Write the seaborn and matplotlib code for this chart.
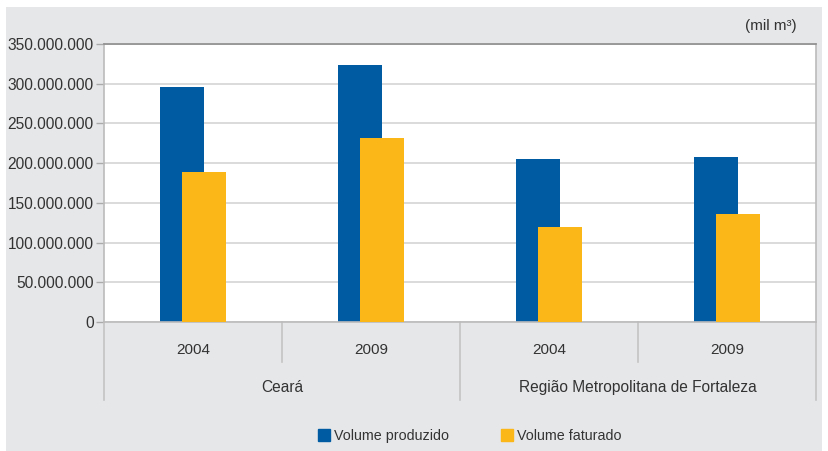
import matplotlib
matplotlib.use("Agg")
import matplotlib.pyplot as plt
import matplotlib.patches as mpatches
from matplotlib.ticker import FuncFormatter
import pandas as pd
import seaborn as sns

# data (mil m3)
grupos = ["Ceará", "Região Metropolitana de Fortaleza"]
anos = ["2004", "2009", "2004", "2009"]
volume_produzido = [296_000_000, 324_000_000, 205_000_000, 208_000_000]
volume_faturado = [189_000_000, 232_000_000, 120_000_000, 136_000_000]

azul = "#005ba3"
amarelo = "#fbb617"
fundo = "#e6e7e9"
texto = "#333333"

plt.rcParams["font.family"] = ["Liberation Sans", "DejaVu Sans"]

fig = plt.figure(figsize=(8.29, 4.51), dpi=100)
fig.patch.set_facecolor("white")
# grey panel behind everything
fig.patches.append(mpatches.Rectangle((6 / 829, 0), (822 - 6) / 829, 1 - 7 / 451,
                                      transform=fig.transFigure, facecolor=fundo,
                                      edgecolor="none", zorder=-10))

ax = fig.add_axes([104 / 829, 1 - 322 / 451, (816 - 104) / 829, (322 - 44) / 451])
ax.set_facecolor("white")

pos = list(range(len(anos)))
df_prod = pd.DataFrame({"pos": [p - 0.062 for p in pos], "valor": volume_produzido})
df_fat = pd.DataFrame({"pos": [p + 0.062 for p in pos], "valor": volume_faturado})

sns.barplot(data=df_prod, x="pos", y="valor", native_scale=True, width=0.25,
            color=azul, saturation=1, linewidth=0, ax=ax, zorder=2)
sns.barplot(data=df_fat, x="pos", y="valor", native_scale=True, width=0.25,
            color=amarelo, saturation=1, linewidth=0, ax=ax, zorder=3)

ax.set_xlim(-0.5, 3.5)
ax.set_ylim(0, 350_000_000)
ax.set_yticks(range(0, 350_000_001, 50_000_000))
ax.yaxis.set_major_formatter(FuncFormatter(lambda v, p: f"{int(v):,}".replace(",", ".")))
ax.tick_params(axis="y", labelsize=11.2, colors="#aaaaaa", labelcolor=texto,
               length=6, width=1, pad=1.5)
ax.set_xticks([])
ax.set_xlabel("")
ax.set_ylabel("")
ax.set_axisbelow(True)
ax.yaxis.grid(True, color="#dadada", linewidth=1.4)

for side in ["left", "bottom", "right"]:
    ax.spines[side].set_color("#bbbbbb")
    ax.spines[side].set_linewidth(1.2)
ax.spines["top"].set_color("#8c8c8c")
ax.spines["top"].set_linewidth(1.2)

# two-level category axis
tr = ax.get_xaxis_transform()
for i, ano in enumerate(anos):
    ax.text(i, -0.1, ano, transform=tr, ha="center", va="center", fontsize=11, color=texto)
for j, g in enumerate(grupos):
    ax.text(2 * j + 0.5, -0.234, g, transform=tr, ha="center", va="center",
            fontsize=11.2, color=texto)
for x in [-0.5, 0.5, 1.5, 2.5, 3.5]:
    fim = -0.281 if x in (-0.5, 1.5, 3.5) else -0.144
    ax.plot([x, x], [0, fim], transform=tr, color="#c4c4c4", linewidth=1.2, clip_on=False)

fig.text(797 / 829, 1 - 26 / 451, "(mil m³)", ha="right", va="center", fontsize=11, color=texto)

handles = [mpatches.Patch(color=azul, label="Volume produzido"),
           mpatches.Patch(color=amarelo, label="Volume faturado")]
fig.legend(handles=handles, loc="center", bbox_to_anchor=(470 / 829, 1 - 436 / 451), ncol=2,
           frameon=False, fontsize=10.3, handlelength=0.85, handleheight=0.85,
           handletextpad=0.3, columnspacing=3.6, labelcolor=texto)

fig.savefig("out.png", dpi=100, facecolor=fig.get_facecolor())
